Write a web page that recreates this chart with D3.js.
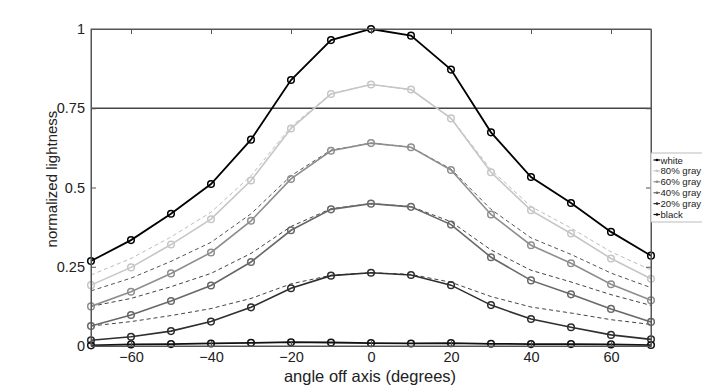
<!DOCTYPE html>
<html><head><meta charset="utf-8">
<script src="https://cdn.jsdelivr.net/npm/d3@7/dist/d3.min.js"></script>
<style>body{margin:0;background:#fff}svg{display:block;font-family:"Liberation Sans",Arial,sans-serif}</style>
</head><body><svg id="c" width="702" height="390"></svg>
<script>
const angles = [-70,-60,-50,-40,-30,-20,-10,0,10,20,30,40,50,60,70];
const whiteVals = [0.268,0.334,0.417,0.511,0.651,0.839,0.965,1.000,0.979,0.872,0.674,0.533,0.451,0.360,0.285];
const gray80Vals = [0.192,0.248,0.320,0.400,0.522,0.686,0.795,0.825,0.809,0.718,0.548,0.428,0.355,0.276,0.212];
const gray60Vals = [0.125,0.171,0.229,0.295,0.395,0.527,0.616,0.640,0.627,0.555,0.415,0.318,0.261,0.195,0.144];
const gray40Vals = [0.063,0.098,0.142,0.191,0.265,0.365,0.431,0.449,0.439,0.383,0.280,0.207,0.163,0.117,0.076];
const gray20Vals = [0.018,0.029,0.047,0.077,0.122,0.182,0.222,0.231,0.224,0.192,0.129,0.085,0.059,0.035,0.021];
const blackVals = [0.002,0.005,0.006,0.008,0.010,0.012,0.011,0.009,0.008,0.009,0.007,0.006,0.006,0.005,0.003];
// dashed reference curves
const ref80Vals = [0.224,0.276,0.344,0.422,0.537,0.692,0.796,0.825,0.808,0.719,0.556,0.440,0.372,0.297,0.240];
const ref60Vals = [0.174,0.214,0.267,0.327,0.417,0.537,0.618,0.640,0.627,0.558,0.431,0.341,0.289,0.230,0.184];
const ref40Vals = [0.125,0.150,0.187,0.229,0.292,0.377,0.433,0.449,0.440,0.392,0.303,0.239,0.202,0.162,0.128];
const ref20Vals = [0.063,0.077,0.096,0.118,0.150,0.196,0.223,0.231,0.226,0.201,0.156,0.123,0.104,0.083,0.068];
const seriesNames = ["white","80% gray","60% gray","40% gray","20% gray","black"];
const xTicks = [-60,-40,-20,0,20,40,60];
const yTicks = [0,0.25,0.5,0.75,1];
const yTickLabels = ["0","0.25","0.5","0.75","1"];
const refLine = 0.75;

const series = [
  {name:seriesNames[0], vals:whiteVals, color:"#000", w:1.8},
  {name:seriesNames[1], vals:gray80Vals, color:"#c6c6c6", w:1.6},
  {name:seriesNames[2], vals:gray60Vals, color:"#8e8e8e", w:1.6},
  {name:seriesNames[3], vals:gray40Vals, color:"#686868", w:1.6},
  {name:seriesNames[4], vals:gray20Vals, color:"#2e2e2e", w:1.6},
  {name:seriesNames[5], vals:blackVals, color:"#111", w:1.8}
];
const dashed = [
  {vals:ref80Vals, color:"#bdbdbd"},
  {vals:ref60Vals, color:"#555"},
  {vals:ref40Vals, color:"#444"},
  {vals:ref20Vals, color:"#444"}
];

const L=91, T=29, W=560, H=317;
const svg = d3.select("#c");
const x = d3.scaleLinear().domain([-70,70]).range([L,L+W]);
const y = d3.scaleLinear().domain([0,1]).range([T+H,T]);
const line = vals => d3.line().x((d,i)=>x(angles[i])).y(d=>y(d))(vals);

svg.append("line").attr("x1",x(-70)).attr("x2",x(70)).attr("y1",y(refLine)).attr("y2",y(refLine))
  .attr("stroke","#444").attr("stroke-width",1.3);

dashed.forEach(d=>{
  svg.append("path").attr("d",line(d.vals)).attr("fill","none").attr("stroke",d.color)
    .attr("stroke-width",1).attr("stroke-dasharray","4,3");
});

series.forEach(s=>{
  svg.append("path").attr("d",line(s.vals)).attr("fill","none").attr("stroke",s.color).attr("stroke-width",s.w);
  svg.append("g").selectAll("circle").data(s.vals).join("circle")
    .attr("cx",(d,i)=>x(angles[i])).attr("cy",d=>y(d)).attr("r",3.3)
    .attr("fill","none").attr("stroke",s.color).attr("stroke-width",1.5);
});

const frameColor="#555";
svg.append("rect").attr("x",L).attr("y",T).attr("width",W).attr("height",H)
  .attr("fill","none").attr("stroke",frameColor).attr("stroke-width",1);
const axB = d3.axisBottom(x).tickValues(xTicks).tickSizeInner(-5).tickSizeOuter(0).tickPadding(6);
const axT = d3.axisTop(x).tickValues(xTicks).tickSizeInner(-5).tickSizeOuter(0).tickFormat("");
const axL = d3.axisLeft(y).tickValues(yTicks).tickSizeInner(-5).tickSizeOuter(0).tickPadding(6)
  .tickFormat((d,i)=>yTickLabels[i]);
const axR = d3.axisRight(y).tickValues(yTicks).tickSizeInner(-5).tickSizeOuter(0).tickFormat("");
function style(g){g.select(".domain").attr("stroke",frameColor);g.selectAll(".tick line").attr("stroke",frameColor);
  g.selectAll("text").attr("fill","#222").style("font-size","14.5px").style("font-family",'"Liberation Sans",Arial,sans-serif');}
svg.append("g").attr("transform",`translate(0,${T+H})`).call(axB).call(style);
svg.append("g").attr("transform",`translate(0,${T})`).call(axT).call(style);
svg.append("g").attr("transform",`translate(${L},0)`).call(axL).call(style);
svg.append("g").attr("transform",`translate(${L+W},0)`).call(axR).call(style);

svg.append("text").attr("x",370).attr("y",382).attr("text-anchor","middle")
  .style("font-size","16.5px").attr("fill","#222").text("angle off axis (degrees)");
svg.append("text").attr("transform","translate(57,179) rotate(-90)").attr("text-anchor","middle")
  .style("font-size","15px").attr("fill","#222").text("normalized lightness");

const lg = svg.append("g");
lg.append("rect").attr("x",651).attr("y",153).attr("width",60).attr("height",69)
  .attr("fill","#fff").attr("stroke","#bbb").attr("stroke-width",1);
series.forEach((s,i)=>{
  const yy = 160 + i*10.9;
  lg.append("line").attr("x1",653.5).attr("x2",660).attr("y1",yy).attr("y2",yy).attr("stroke",s.color).attr("stroke-width",1.2);
  lg.append("circle").attr("cx",657).attr("cy",yy).attr("r",1.3).attr("fill",s.color);
  lg.append("text").attr("x",660.5).attr("y",yy+3.5).style("font-size","9.6px").attr("fill","#222").text(s.name);
});
</script></body></html>
